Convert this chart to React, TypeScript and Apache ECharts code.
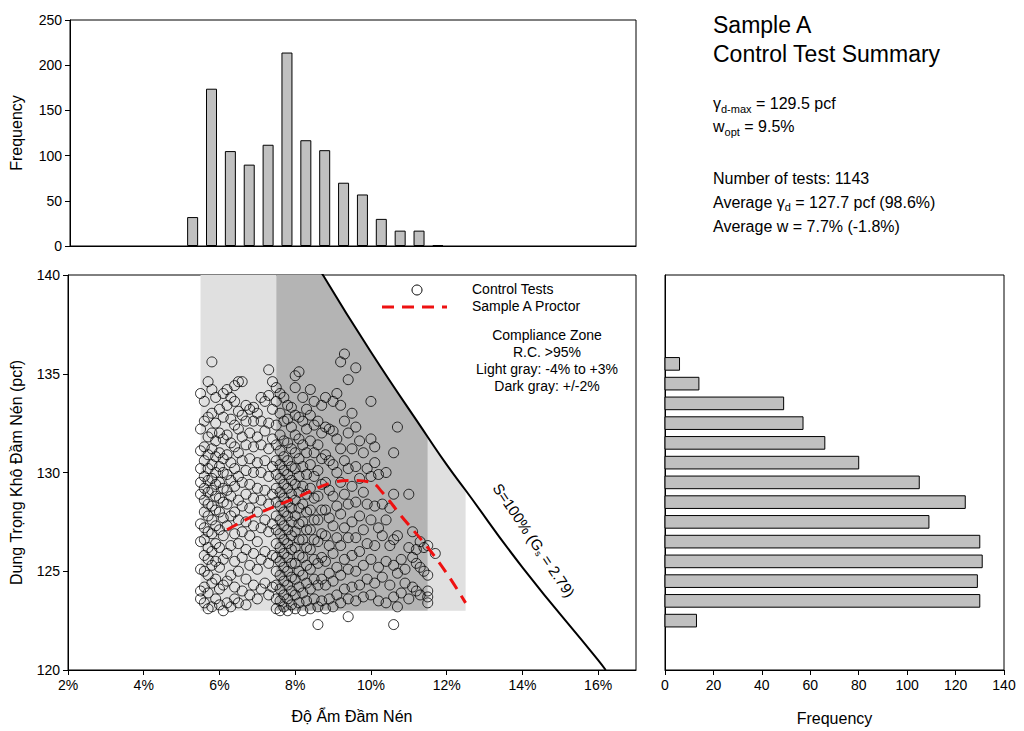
import React, { useRef, useEffect } from "react";
import * as echarts from "echarts";

// moisture histogram (top)
const moistBins = [5.25, 5.75, 6.25, 6.75, 7.25, 7.75, 8.25, 8.75, 9.25, 9.75, 10.25, 10.75, 11.25, 11.75];
const moistCounts = [32, 174, 105, 90, 112, 214, 117, 106, 70, 57, 30, 17, 17, 1];

// density histogram (right)
const densBins = [135.5, 134.5, 133.5, 132.5, 131.5, 130.5, 129.5, 128.5, 127.5, 126.5, 125.5, 124.5, 123.5, 122.5];
const densCounts = [6, 14, 49, 57, 66, 80, 105, 124, 109, 130, 131, 129, 130, 13];

// proctor curve
const proctor = [[6.2, 127.1], [7, 127.9], [8, 128.7], [9, 129.5], [9.5, 129.6], [10, 129.5], [10.3, 129.0], [10.8, 127.8], [11.5, 126.2], [12, 124.9], [12.5, 123.4]];

// zero air voids line
const zav = [[8.7, 140.1], [10, 136.1], [11.5, 131.8], [12, 130.4], [12.5, 129.1], [14, 125.2], [16, 120.5], [16.2, 120]];

const darkZone = [[7.5, 123], [7.5, 140], [8.7, 140], [10, 136.1], [11.5, 131.8], [11.5, 123]];
const lightZoneA = [[5.5, 123], [5.5, 140], [7.5, 140], [7.5, 123]];
const lightZoneB = [[11.5, 123], [11.5, 131.8], [12, 130.4], [12.5, 129.1], [12.5, 123]];

// control tests, by moisture column
const testCols: [number, number[]][] = [
  [5.5, [123.6, 124, 125.1, 126.5, 127.4, 128.9, 129.5, 130.2, 131.1, 132.2, 134]],
  [5.6, [123.4, 124.2, 125, 125.8, 126.6, 127.2, 128, 128.6, 129.2, 129.8, 130.6, 131.3, 132.6, 133.6]],
  [5.7, [123.1, 123.9, 124.8, 125.6, 126.2, 127, 127.8, 128.4, 129, 129.6, 130.2, 130.9, 131.8, 132.8, 134.6]],
  [5.8, [123.2, 124.4, 125.3, 126, 126.9, 127.6, 128.3, 129.1, 129.7, 130.4, 131.2, 132, 133, 134.2, 135.6]],
  [5.9, [123.6, 124.6, 125.5, 126.4, 127.3, 128.1, 128.8, 129.4, 130, 130.8, 131.6, 132.5, 133.8]],
  [6.0, [123.3, 124.1, 125.2, 126.2, 127.1, 128, 128.7, 129.5, 130.3, 131, 132, 133.2]],
  [6.1, [123, 124.3, 125.6, 126.8, 127.7, 128.5, 129.2, 130, 130.7, 131.7, 132.8, 134]],
  [6.2, [123.4, 124.5, 125.9, 127.3, 128.4, 129.1, 129.9, 130.9, 131.9, 133.4, 134.2]],
  [6.3, [123.2, 124.8, 126.3, 127.8, 128.8, 129.6, 130.5, 131.5, 132.7, 133.8]],
  [6.4, [123.6, 124.2, 125.5, 126.9, 128, 129.3, 130.2, 131.3, 132.4, 133.6, 134.4]],
  [6.5, [123.4, 125, 126.4, 127.6, 128.6, 129.8, 131, 132.2, 133.1, 134.6]],
  [6.6, [124, 125.7, 127, 128.3, 129.5, 130.6, 131.8, 132.9, 134.6]],
  [6.7, [123.3, 124.6, 126.1, 127.5, 128.9, 130.1, 131.4, 132.6, 133.4]],
  [6.8, [123.8, 125.3, 126.8, 128.2, 129.4, 130.7, 132, 133.2]],
  [6.9, [124.3, 125.9, 127.3, 128.7, 130, 131.3, 132.6, 133.3]],
  [7.0, [123.6, 125.1, 126.5, 128, 129.2, 130.5, 131.8, 133]],
  [7.1, [124.1, 125.6, 127.2, 128.6, 130, 131.4, 132.6, 133.8]],
  [7.2, [124.4, 126, 127.6, 129.1, 130.6, 132.1, 133.6]],
  [7.3, [123.8, 125.4, 127, 128.4, 129.8, 131.2, 132.5, 133.9, 135.2]],
  [7.4, [124.2, 125.8, 127.4, 128.9, 130.3, 131.7, 133.2, 134.6]],
  [7.5, [123.1, 123.6, 124.3, 125, 125.7, 126.4, 127.1, 127.8, 128.5, 129.2, 129.9, 130.6, 131.4, 132.4, 133.6, 134.3]],
  [7.6, [123, 123.5, 124.1, 124.8, 125.5, 126.2, 126.9, 127.6, 128.3, 129, 129.7, 130.4, 131.1, 131.9, 133, 134]],
  [7.7, [123.2, 123.8, 124.5, 125.2, 125.9, 126.6, 127.3, 128, 128.7, 129.4, 130.1, 130.8, 131.6, 132.6, 133.8]],
  [7.8, [123, 123.6, 124.3, 125, 125.7, 126.4, 127.1, 127.8, 128.5, 129.2, 129.9, 130.6, 131.5, 132.7, 133.4]],
  [7.9, [123.3, 124, 124.7, 125.4, 126.1, 126.8, 127.5, 128.2, 128.9, 129.6, 130.3, 131.2, 132.3, 133.3]],
  [8.0, [123.1, 123.8, 124.6, 125.4, 126.2, 127, 127.8, 128.6, 129.4, 130.2, 131, 131.9, 132.9, 134.3, 134.9]],
  [8.1, [123.4, 124.2, 125, 125.8, 126.6, 127.4, 128.2, 129, 129.8, 130.7, 131.7, 132.8, 135.1]],
  [8.2, [123, 123.9, 124.8, 125.7, 126.6, 127.5, 128.4, 129.3, 130.3, 131.4, 132.6, 133.8]],
  [8.3, [123.5, 124.4, 125.3, 126.2, 127.1, 128, 128.9, 129.9, 131, 132.2, 133.2]],
  [8.4, [123.1, 124.1, 125.1, 126.1, 127.1, 128.1, 129.2, 130.4, 131.6, 132.9, 134.2]],
  [8.5, [123.6, 124.6, 125.6, 126.6, 127.6, 128.7, 129.8, 131, 132.4, 133.6]],
  [8.6, [122.3, 123.2, 124.3, 125.4, 126.5, 127.6, 128.8, 130.1, 131.4, 132.6]],
  [8.7, [123.5, 124.6, 125.7, 126.9, 128.1, 129.4, 130.7, 132, 133.4]],
  [8.8, [123.1, 124.3, 125.5, 126.8, 128.1, 129.5, 130.9, 132.3, 133.8]],
  [8.9, [123.6, 124.9, 126.3, 127.7, 129.1, 130.6, 132.2]],
  [9.0, [123.2, 124.5, 125.9, 127.3, 128.8, 130.4, 132.1, 133.6]],
  [9.1, [123.8, 125.2, 126.7, 128.3, 130, 131.7, 134]],
  [9.2, [123.4, 124.8, 126.3, 127.9, 129.5, 131.2, 133.4, 135.6]],
  [9.3, [124.1, 125.6, 127.2, 128.9, 130.6, 132.6, 136]],
  [9.4, [122.7, 123.6, 125.1, 126.7, 128.4, 130.2, 132, 134.7]],
  [9.5, [124.2, 125.8, 127.5, 129.3, 131.2, 133]],
  [9.6, [123.5, 125, 126.7, 128.5, 130.3, 132.3, 135.3]],
  [9.7, [124.3, 126, 127.8, 129.7, 131.6]],
  [9.8, [123.7, 125.3, 127.1, 129, 131]],
  [9.9, [124.6, 126.4, 128.4, 130.2]],
  [10.0, [123.8, 125.6, 127.6, 129.8, 131.7, 133.6]],
  [10.1, [124.4, 126.3, 128.3, 130.5, 131.3]],
  [10.2, [123.5, 125.2, 127.2, 129.9]],
  [10.3, [124.7, 126.8, 128.4]],
  [10.4, [123.4, 125.5, 127.6, 130]],
  [10.5, [124.3, 126.3, 128.2]],
  [10.6, [122.3, 123.7, 125.3, 126.6, 128.9, 131]],
  [10.7, [123.2, 124.9, 126.8, 132.3]],
  [10.8, [123.9, 125.6]],
  [10.9, [124.4, 125.1]],
  [11.0, [123.6, 126.2, 128.9]],
  [11.1, [124.2, 125.7, 127]],
  [11.2, [124, 125.4, 126.1]],
  [11.3, [123.8, 125.2, 126.5]],
  [11.4, [125, 126.2]],
  [11.5, [123.4, 123.7, 124, 124.8, 126.3]],
  [11.7, [125.9]],
];

const FONT = "Liberation Sans";

export default function App() {
  const ref = useRef<HTMLDivElement>(null);

  useEffect(() => {
    if (!ref.current) return;
    const chart = echarts.init(ref.current, undefined, { renderer: "svg" });
    const tests = testCols.flatMap(([x, ys]) => ys.map((y) => [x, y]));
    const zone = (pts: number[][], color: string) => ({
      type: "custom",
      xAxisIndex: 1,
      yAxisIndex: 1,
      silent: true,
      z: 1,
      data: [0],
      renderItem: (_p: any, api: any) => ({
        type: "polygon",
        shape: { points: pts.map((p) => api.coord(p)) },
        style: { fill: color },
      }),
    });
    const axisLine = { lineStyle: { color: "#000" } };
    const lbl = { color: "#000", fontSize: 14, fontFamily: FONT };

    chart.setOption({
      animation: false,
      textStyle: { fontFamily: FONT },
      grid: [
        { left: 68, top: 20, width: 568, height: 226, show: true, borderColor: "#000", backgroundColor: "transparent" },
        { left: 68, top: 275, width: 568, height: 395, show: true, borderColor: "#000", backgroundColor: "transparent" },
        { left: 665, top: 275, width: 339, height: 395, show: true, borderColor: "#000", backgroundColor: "transparent" },
      ],
      xAxis: [
        { gridIndex: 0, type: "value", min: 2, max: 17, interval: 2, axisLine, axisTick: { show: false }, axisLabel: { show: false }, splitLine: { show: false } },
        {
          gridIndex: 1, type: "value", min: 2, max: 17, interval: 2, axisLine, axisTick: { lineStyle: { color: "#000" } },
          axisLabel: { ...lbl, formatter: "{value}%", showMaxLabel: false }, splitLine: { show: false },
          name: "Độ Ẩm Đầm Nén", nameLocation: "middle", nameGap: 38, nameTextStyle: { ...lbl, fontSize: 16 },
        },
        {
          gridIndex: 2, type: "value", min: 0, max: 140, interval: 20, axisLine, axisTick: { lineStyle: { color: "#000" } },
          axisLabel: lbl, splitLine: { show: false },
          name: "Frequency", nameLocation: "middle", nameGap: 40, nameTextStyle: { ...lbl, fontSize: 16 },
        },
      ],
      yAxis: [
        {
          gridIndex: 0, type: "value", min: 0, max: 250, interval: 50, axisLine: { show: true, ...axisLine }, axisTick: { show: true, lineStyle: { color: "#000" } },
          axisLabel: lbl, splitLine: { show: false },
          name: "Frequency", nameLocation: "middle", nameGap: 46, nameTextStyle: { ...lbl, fontSize: 16 },
        },
        {
          gridIndex: 1, type: "value", min: 120, max: 140, interval: 5, axisLine: { show: true, ...axisLine }, axisTick: { show: true, lineStyle: { color: "#000" } },
          axisLabel: lbl, splitLine: { show: false },
          name: "Dung Trọng Khô Đầm Nén (pcf)", nameLocation: "middle", nameGap: 44, nameTextStyle: { ...lbl, fontSize: 16 },
        },
        { gridIndex: 2, type: "value", min: 120, max: 140, axisLine: { show: true, ...axisLine }, axisTick: { show: false }, axisLabel: { show: false }, splitLine: { show: false } },
      ],
      series: [
        {
          type: "bar", xAxisIndex: 0, yAxisIndex: 0, barWidth: 11,
          data: moistBins.map((b, i) => [b, moistCounts[i]]),
          itemStyle: { color: "#c0c0c0", borderColor: "#000", borderWidth: 1 },
        },
        zone(lightZoneA, "#e0e0e0"),
        zone(lightZoneB, "#e0e0e0"),
        zone(darkZone, "#b4b4b4"),
        {
          type: "scatter", xAxisIndex: 1, yAxisIndex: 1, symbol: "circle", symbolSize: 10, z: 3,
          data: tests,
          itemStyle: { color: "transparent", borderColor: "#000", borderWidth: 1 },
        },
        {
          type: "line", xAxisIndex: 1, yAxisIndex: 1, data: zav, symbol: "none", smooth: true, z: 4,
          lineStyle: { color: "#000", width: 2 },
        },
        {
          type: "line", xAxisIndex: 1, yAxisIndex: 1, data: proctor, symbol: "none", smooth: 0.4, z: 5,
          lineStyle: { color: "#ee1111", width: 3, type: [12, 8] },
        },
        {
          type: "custom", xAxisIndex: 2, yAxisIndex: 2,
          data: densBins.map((b, i) => [densCounts[i], b]),
          renderItem: (_p: any, api: any) => {
            const tl = api.coord([0, api.value(1) + 0.32]);
            const br = api.coord([api.value(0), api.value(1) - 0.32]);
            return {
              type: "rect",
              shape: { x: tl[0], y: tl[1], width: br[0] - tl[0], height: br[1] - tl[1] },
              style: { fill: "#c0c0c0", stroke: "#000", lineWidth: 1 },
            };
          },
        },
      ],
      graphic: [
        { type: "text", left: 713, top: 10, style: { text: "Sample A\nControl Test Summary", font: `23px ${FONT}`, fill: "#000", lineHeight: 29 } },
        {
          type: "text", left: 713, top: 95,
          style: {
            text: "{g|γ}{s|d-max}{n| = 129.5 pcf}\n{n|w}{s2|opt}{n| = 9.5%}",
            fill: "#000",
            rich: {
              g: { font: `16px ${FONT}`, fill: "#000", lineHeight: 23 },
              n: { font: `16px ${FONT}`, fill: "#000", lineHeight: 23 },
              s: { font: `11px ${FONT}`, fill: "#000", verticalAlign: "bottom", padding: [6, 0, 0, 0] },
              s2: { font: `11px ${FONT}`, fill: "#000", verticalAlign: "bottom", padding: [10, 0, 0, 0] },
            },
          },
        },
        {
          type: "text", left: 713, top: 170,
          style: {
            text: "{n|Number of tests: 1143}\n{n|Average γ}{s|d}{n| = 127.7 pcf (98.6%)}\n{n|Average w = 7.7% (-1.8%)}",
            rich: {
              n: { font: `16px ${FONT}`, fill: "#000", lineHeight: 24 },
              s: { font: `11px ${FONT}`, fill: "#000", padding: [10, 0, 0, 0] },
            },
          },
        },
        { type: "circle", shape: { cx: 417, cy: 290, r: 5 }, style: { fill: "transparent", stroke: "#000", lineWidth: 1 }, z: 10 },
        { type: "text", left: 472, top: 282, style: { text: "Control Tests", font: `14px ${FONT}`, fill: "#000" }, z: 10 },
        { type: "line", shape: { x1: 382, y1: 307, x2: 447, y2: 307 }, style: { stroke: "#ee1111", lineWidth: 3, lineDash: [12, 8] }, z: 10 },
        { type: "text", left: 472, top: 299, style: { text: "Sample A Proctor", font: `14px ${FONT}`, fill: "#000" }, z: 10 },
        {
          type: "text", x: 547, y: 326, z: 10,
          style: { text: "Compliance Zone\nR.C. >95%\nLight gray: -4% to +3%\nDark gray: +/-2%", font: `14px ${FONT}`, fill: "#000", align: "center", lineHeight: 17 },
        },
        {
          type: "text", x: 527, y: 545, rotation: (-56 * Math.PI) / 180, z: 10,
          style: {
            text: "{n|S=100% (G}{s|s}{n| = 2.79)}", align: "center", verticalAlign: "bottom",
            rich: { n: { font: `15px ${FONT}`, fill: "#000" }, s: { font: `9px ${FONT}`, fill: "#000", padding: [8, 0, 0, 0] } },
          },
        },
      ],
    });
    return () => chart.dispose();
  }, []);

  return <div ref={ref} style={{ position: "fixed", left: 0, top: 0, width: 1024, height: 731, background: "#fff" }} />;
}
